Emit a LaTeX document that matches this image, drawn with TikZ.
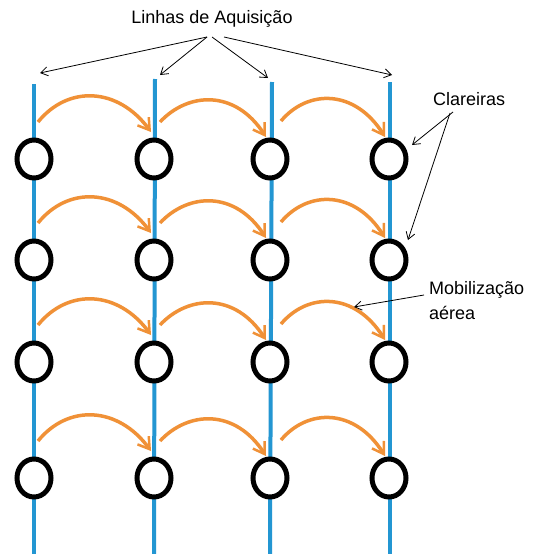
\documentclass[tikz,border=0pt]{standalone}
\usepackage{fontspec}
\setmainfont{Liberation Sans}
\usetikzlibrary{arrows.meta,shapes.geometric}
\definecolor{lineblue}{RGB}{35,150,210}
\definecolor{arroworange}{RGB}{240,145,55}
\tikzset{
  acqline/.style={draw=lineblue, line width=4pt},
  clearing/.style={ellipse, draw=black, fill=white, line width=5pt, minimum width=34pt, minimum height=38pt, inner sep=0pt},
  hop/.style={draw=arroworange, line width=3.5pt, -{Straight Barb[length=11pt,width=14pt,line width=2.5pt]}},
  pointer/.style={draw=black, line width=0.8pt, -{Straight Barb[length=7pt,width=9pt,line width=0.8pt]}},
  lbl/.style={font=\fontsize{18}{20}\selectfont, inner sep=0pt}
}
\begin{document}
\begin{tikzpicture}[x=1pt,y=-1pt]
\useasboundingbox[fill=white] (0,0) rectangle (543,554);
% acquisition line ends
\coordinate (t1) at (34,84);  \coordinate (b1) at (34,554);
\coordinate (t2) at (155,79); \coordinate (b2) at (154,554);
\coordinate (t3) at (272,82); \coordinate (b3) at (270,554);
\coordinate (t4) at (390,82); \coordinate (b4) at (390,554);
\foreach \i in {1,2,3,4} \draw[acqline] (t\i) -- (b\i);
% clearings
\foreach \x/\c in {34/1,154/2,270/3,389/4}{
  \node[clearing] (c1\c) at (\x,159) {};
  \node[clearing] (c2\c) at (\x,260) {};
  \node[clearing] (c3\c) at (\x,362) {};
  \node[clearing] (c4\c) at (\x,478) {};
}
% orange hops
\foreach \r/\y in {1/159,2/260,3/362,4/478}{
  \coordinate (s1\r) at (38,\y-37);  \coordinate (e1\r) at (151,\y-27);
  \coordinate (s2\r) at (160,\y-37); \coordinate (e2\r) at (266,\y-22);
  \coordinate (s3\r) at (281,\y-38); \coordinate (e3\r) at (385,\y-22);
  \draw[hop] (s1\r) .. controls (68,\y-74) and (118,\y-72) .. (e1\r);
  \draw[hop] (s2\r) .. controls (188,\y-67) and (235,\y-70) .. (e2\r);
  \draw[hop] (s3\r) .. controls (308,\y-70) and (355,\y-70) .. (e3\r);
}
% labels
\node[lbl] (la) at (212,19) {Linhas de Aquisição};
\coordinate (la1) at (207,37); \coordinate (la2) at (212,37);
\coordinate (la3) at (218,37); \coordinate (la4) at (224,37);
\coordinate (p1) at (40,73);  \coordinate (p2) at (160,75);
\coordinate (p3) at (268,78); \coordinate (p4) at (392,75);
\draw[pointer] (la1) -- (p1);
\draw[pointer] (la1) -- (p2);
\draw[pointer] (la2) -- (p3);
\draw[pointer] (la4) -- (p4);
\node[lbl, anchor=west] (cl) at (433,99) {Clareiras};
\coordinate (cl1) at (453,112); \coordinate (cl2) at (450,113);
\coordinate (q1) at (412,145); \coordinate (q2) at (408,240);
\draw[pointer] (cl1) -- (q1);
\draw[pointer] (cl2) -- (q2);
\node[lbl, anchor=west] (mob) at (429,290) {Mobilização};
\node[lbl, anchor=west] (aer) at (429,313) {aérea};
\coordinate (m1) at (424,295); \coordinate (m2) at (354,307);
\draw[pointer] (m1) -- (m2);
\end{tikzpicture}
\end{document}
